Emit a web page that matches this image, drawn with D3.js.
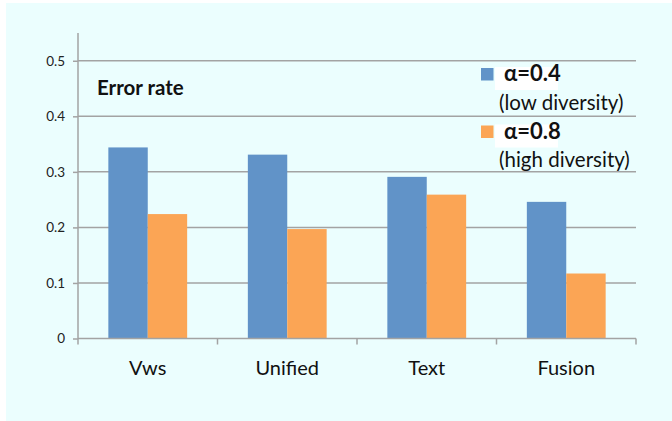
<!DOCTYPE html>
<html>
<head>
<meta charset="utf-8">
<script src="https://cdn.jsdelivr.net/npm/d3@7"></script>
<style>
  body { margin: 0; background: #fff; }
  svg { display: block; font-family: Lato, "Open Sans", sans-serif; }
</style>
</head>
<body>
<div id="app"></div>
<script>
// data
let categories = ['Vws', 'Unified', 'Text', 'Fusion'];
let seriesNames = ['a04', 'a08'];
let lowDiversity = [0.344, 0.331, 0.291, 0.246];
let highDiversity = [0.224, 0.197, 0.259, 0.117];
let yTicks = [0, 0.1, 0.2, 0.3, 0.4, 0.5];
let legendTitles = ['\u03b1=0.4', '\u03b1=0.8'];
let legendNotes = ['(low diversity)', '(high diversity)'];
let colors = ['#6193c8', '#fba555'];

let svgWidth = 672, svgHeight = 421;
let margin = {top: 33, left: 78, right: 36, bottom: 82.5};

let svg = d3.select('#app').append('svg')
    .attr('width', svgWidth)
    .attr('height', svgHeight);

// light cyan panel
svg.append('rect')
    .attr('x', 6).attr('y', 3)
    .attr('width', svgWidth - 6).attr('height', svgHeight - 3)
    .attr('fill', '#ebfefe');

let x0 = d3.scaleBand()
    .domain(categories)
    .range([margin.left, svgWidth - margin.right]);

let x1 = d3.scaleBand()
    .domain(seriesNames)
    .range([0, x0.bandwidth()])
    .paddingInner(0)
    .paddingOuter(0.77);

let y = d3.scaleLinear()
    .domain([0, 0.55])
    .range([svgHeight - margin.bottom, margin.top]);

let grey = '#a3a3a3';

// gridlines
svg.append('g')
    .selectAll('line')
    .data(yTicks.filter(t => t > 0))
    .enter().append('line')
        .attr('x1', margin.left)
        .attr('x2', svgWidth - margin.right)
        .attr('y1', d => y(d))
        .attr('y2', d => y(d))
        .attr('stroke', grey)
        .attr('stroke-width', 1.5);

// bars
let rows = categories.map((c, i) => ({cat: c, vals: [lowDiversity[i], highDiversity[i]]}));
let groups = svg.append('g')
    .selectAll('g')
    .data(rows)
    .enter().append('g')
        .attr('transform', d => `translate(${x0(d.cat)},0)`);

groups.selectAll('rect')
    .data(d => d.vals.map((v, j) => ({key: seriesNames[j], v: v, j: j})))
    .enter().append('rect')
        .attr('x', d => x1(d.key))
        .attr('width', x1.bandwidth())
        .attr('y', d => y(d.v))
        .attr('height', d => y(0) - y(d.v))
        .attr('fill', d => colors[d.j]);

// y axis
let yAxis = svg.append('g')
    .attr('transform', `translate(${margin.left},0)`)
    .call(d3.axisLeft(y).tickValues(yTicks).tickSize(5).tickPadding(8)
        .tickFormat(d => d === 0 ? '0' : d3.format('.1f')(d)));
yAxis.select('.domain').remove();
yAxis.append('line')
    .attr('x1', 0).attr('x2', 0)
    .attr('y1', margin.top).attr('y2', y(0))
    .attr('stroke', grey).attr('stroke-width', 1.5);
yAxis.selectAll('.tick line').attr('stroke', grey).attr('stroke-width', 1.5);
yAxis.selectAll('.tick text')
    .attr('fill', '#222')
    .style('font-size', '13.5px')
    .style('font-family', 'Lato, sans-serif');

// x axis
let xAxis = svg.append('g')
    .attr('transform', `translate(0,${y(0)})`);
xAxis.append('line')
    .attr('x1', margin.left).attr('x2', svgWidth - margin.right)
    .attr('stroke', grey).attr('stroke-width', 1.5);
xAxis.selectAll('line.sep')
    .data(categories.concat(['end']))
    .enter().append('line')
        .attr('class', 'sep')
        .attr('x1', (d, i) => margin.left + i * x0.step())
        .attr('x2', (d, i) => margin.left + i * x0.step())
        .attr('y1', 0).attr('y2', 6)
        .attr('stroke', grey).attr('stroke-width', 1.5);
xAxis.selectAll('text')
    .data(categories)
    .enter().append('text')
        .attr('x', d => x0(d) + x0.bandwidth() / 2)
        .attr('y', 36.5)
        .attr('text-anchor', 'middle')
        .attr('fill', '#111')
        .style('font-size', '20px')
        .text(d => d);

// chart label
svg.append('text')
    .attr('x', 97).attr('y', 95)
    .attr('fill', '#111')
    .style('font-size', '20.5px')
    .style('font-weight', 'bold')
    .text('Error rate');

// legend
let legend = svg.append('g');
let legendY = [68, 125.5];
legendTitles.forEach((t, i) => {
    let g = legend.append('g').attr('transform', `translate(0,${legendY[i]})`);
    g.append('rect')
        .attr('x', 481).attr('y', 0)
        .attr('width', 12.5).attr('height', 12.5)
        .attr('fill', colors[i]);
    g.append('rect')
        .attr('x', 495).attr('y', -1)
        .attr('width', 63).attr('height', 23)
        .attr('fill', '#fff');
    g.append('text')
        .attr('x', 504).attr('y', 13)
        .attr('fill', '#111')
        .style('font-size', '22px')
        .style('font-weight', 'bold')
        .text(t);
    g.append('text')
        .attr('x', 499).attr('y', 41.5)
        .attr('fill', '#111')
        .style('font-size', '20.5px')
        .text(legendNotes[i]);
});
</script>
</body>
</html>
